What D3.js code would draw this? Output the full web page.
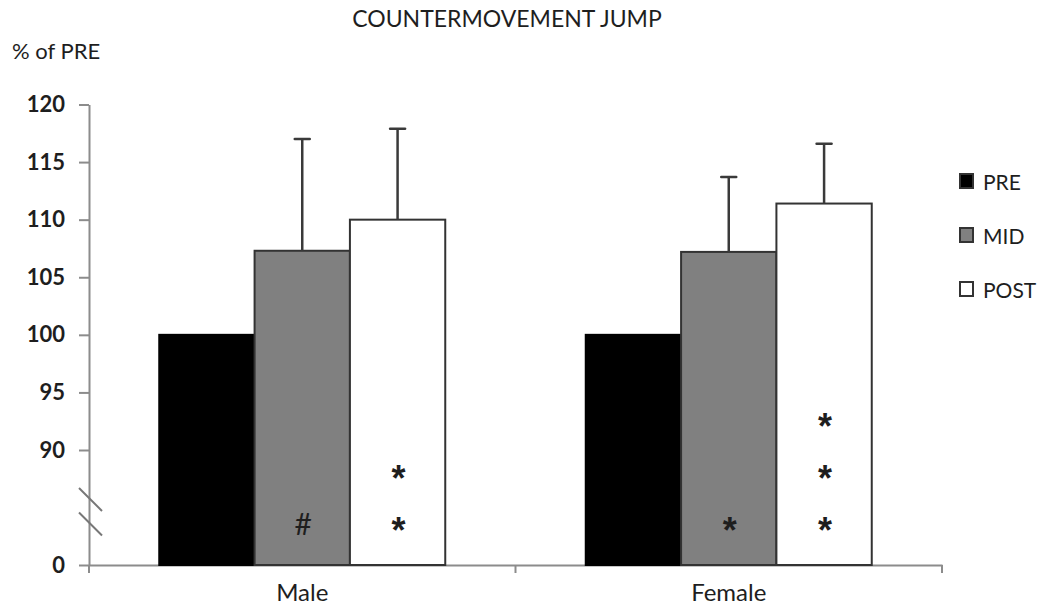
<!DOCTYPE html>
<html>
<head>
<meta charset="utf-8">
<script src="https://cdn.jsdelivr.net/npm/d3@7"></script>
<style>
  body { margin: 0; background: #fff; }
  svg { display: block; }
  text { font-family: Lato, "Open Sans", sans-serif; fill: #1e1e1e; }
</style>
</head>
<body>
<svg id="chart" width="1047" height="606"></svg>
<script>
// Countermovement jump, expressed as % of the PRE value
const groups = ["Male", "Female"];
const phases = ["PRE", "MID", "POST"];
const maleMeans = [100, 107.3, 110.0];
const femaleMeans = [100, 107.2, 111.4];
const maleSD = [0, 9.7, 7.9];
const femaleSD = [0, 6.5, 5.2];
// significance symbols drawn inside each bar (one glyph per row)
const maleSig = ["", "#", "**"];
const femaleSig = ["", "*", "***"];
const yTicks = [0, 90, 95, 100, 105, 110, 115, 120];
const phaseFills = ["#000000", "#808080", "#ffffff"];

const rows = [];
groups.forEach((g, gi) => {
  const means = gi === 0 ? maleMeans : femaleMeans;
  const sds = gi === 0 ? maleSD : femaleSD;
  const sig = gi === 0 ? maleSig : femaleSig;
  phases.forEach((p, pi) => rows.push({ group: g, phase: p, mean: means[pi], sd: sds[pi], sig: sig[pi] }));
});

const svg = d3.select("#chart");
const axisColor = "#8c8c8c";
const edgeColor = "#333333";

// broken value axis: 0 sits at the bottom, the visible range is 90..120
const y = d3.scaleLinear().domain([0, 90, 120]).range([565, 450, 104.5]);
const x = d3.scaleBand().domain(groups).range([89, 942]).padding(0);
const barSpan = 286;
const xi = d3.scaleBand().domain(phases)
  .range([(x.bandwidth() - barSpan) / 2, (x.bandwidth() + barSpan) / 2]).padding(0);

// title and unit label
svg.append("text").attr("x", 507).attr("y", 27).attr("text-anchor", "middle")
  .style("font-size", "23px").text("COUNTERMOVEMENT JUMP");
svg.append("text").attr("x", 12).attr("y", 59)
  .style("font-size", "22px").text("% of PRE");

// y axis
const yAxis = svg.append("g").attr("transform", "translate(89,0)")
  .call(d3.axisLeft(y).tickValues(yTicks).tickSizeInner(10).tickSizeOuter(0).tickPadding(14));
yAxis.select(".domain").attr("stroke", axisColor).attr("stroke-width", 2);
yAxis.selectAll(".tick line").attr("stroke", axisColor).attr("stroke-width", 2);
yAxis.selectAll(".tick text").style("font-size", "22px").style("font-weight", "700")
  .style("font-family", "Lato, sans-serif").attr("fill", "#1e1e1e");

// x axis line with ticks at the category boundaries
const xAxis = svg.append("g").attr("transform", `translate(0,${y(0)})`)
  .call(d3.axisBottom(x).tickSize(0).tickPadding(19));
xAxis.select(".domain").attr("stroke", axisColor).attr("stroke-width", 2);
xAxis.selectAll(".tick text").style("font-size", "24px").style("font-family", "Lato, sans-serif")
  .attr("fill", "#1e1e1e");
const bounds = groups.map(g => x(g)).concat([x.range()[1]]);
xAxis.selectAll("line.bound").data(bounds).join("line").attr("class", "bound")
  .attr("x1", d => d).attr("x2", d => d).attr("y1", 0).attr("y2", 8)
  .attr("stroke", axisColor).attr("stroke-width", 2);

// axis break marks, drawn across the compressed 0..90 stretch
const breakVals = [51.3, 32.1];
svg.selectAll("line.brk").data(breakVals).join("line").attr("class", "brk")
  .attr("x1", 79).attr("x2", 102)
  .attr("y1", d => y(d) - 11.5).attr("y2", d => y(d) + 11.5)
  .attr("stroke", "#777").attr("stroke-width", 2);

// bars
const bar = svg.append("g").selectAll("g").data(rows).join("g")
  .attr("transform", d => `translate(${x(d.group) + xi(d.phase)},0)`);
bar.append("rect")
  .attr("x", 0).attr("width", xi.bandwidth())
  .attr("y", d => y(d.mean)).attr("height", d => y(0) - y(d.mean))
  .attr("fill", d => phaseFills[phases.indexOf(d.phase)])
  .attr("stroke", d => d.phase === "PRE" ? "#000" : edgeColor).attr("stroke-width", 2);

// error bars (upper only)
const eb = bar.filter(d => d.sd > 0);
eb.append("line")
  .attr("x1", xi.bandwidth() / 2).attr("x2", xi.bandwidth() / 2)
  .attr("y1", d => y(d.mean)).attr("y2", d => y(d.mean + d.sd))
  .attr("stroke", "#3a3a3a").attr("stroke-width", 2.5);
eb.append("line")
  .attr("x1", xi.bandwidth() / 2 - 7.5).attr("x2", xi.bandwidth() / 2 + 7.5)
  .attr("y1", d => y(d.mean + d.sd)).attr("y2", d => y(d.mean + d.sd))
  .attr("stroke", "#3a3a3a").attr("stroke-width", 2.5).attr("stroke-linecap", "round");

// significance marks stacked upward from the bottom of each bar
bar.each(function (d) {
  const glyphs = d.sig.split("");
  d3.select(this).selectAll("text.sig").data(glyphs).join("text").attr("class", "sig")
    .attr("x", xi.bandwidth() / 2 + 1)
    .attr("y", (c, i) => y(0) - 42 - i * 52)
    .attr("text-anchor", "middle").attr("dominant-baseline", "central")
    .style("font-family", c => c === "*" ? "'Liberation Sans', sans-serif" : "Lato, sans-serif")
    .style("font-weight", c => c === "*" ? "700" : "400")
    .style("font-size", c => c === "*" ? "36px" : "30px")
    .attr("dy", c => c === "*" ? "0.2em" : "0")
    .text(c => c);
});

// legend
const legend = svg.append("g").selectAll("g").data(phases).join("g")
  .attr("transform", (d, i) => `translate(959,${181 + i * 54})`);
legend.append("rect").attr("x", 1).attr("y", -7).attr("width", 13).attr("height", 14)
  .attr("fill", (d, i) => phaseFills[i]).attr("stroke", edgeColor).attr("stroke-width", 2);
legend.append("text").attr("x", 24).attr("y", 0).attr("dominant-baseline", "central")
  .style("font-size", "21px").text(d => d);
</script>
</body>
</html>
